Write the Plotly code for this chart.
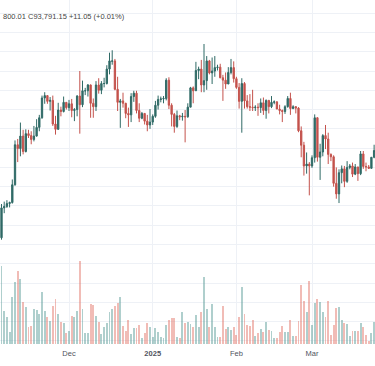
import pandas as pd
import plotly.graph_objects as go

# ---- data (BTC daily, prices in thousands USD) ----
dates = pd.date_range("2024-11-05", periods=140, freq="D")

open_k = [67.8, 69.4, 75.6, 75.9, 76.5, 76.7, 80.4, 88.7, 87.9, 90.5, 87.3, 91.0, 90.6, 89.8, 90.5, 92.3,
          94.3, 98.4, 98.9, 97.7, 97.9, 93.0, 91.9, 95.9, 95.6, 97.5,
          96.4, 97.2, 95.8, 96.0, 98.8, 97.0, 99.9, 99.9, 101.1, 97.3, 96.6, 101.1, 100.0, 101.4, 101.4, 104.4,
          106.0, 106.1, 100.2, 97.5, 97.8, 97.3, 95.2, 94.9, 98.7, 99.4, 95.8, 94.2, 95.2, 93.6, 92.8,
          93.4, 94.6, 96.9, 98.1, 98.2, 98.3, 102.1, 96.9, 95.0, 92.5, 94.7, 94.5, 94.6, 94.5, 96.5, 100.5,
          99.9, 104.1, 104.4, 101.1, 102.0, 106.1, 103.6, 104.0, 104.7, 104.8, 102.6, 102.1, 101.3, 103.7, 104.7,
          102.4, 100.6, 97.7, 101.4, 97.8, 96.6, 96.5, 96.4, 96.5, 96.4, 97.4, 95.8, 97.9, 96.6, 97.5, 97.6,
          96.1, 95.8, 95.6, 96.6, 98.3, 96.2, 96.6, 96.3, 91.6, 88.6, 84.3, 84.7,
          84.3, 86.0, 94.3, 86.1, 87.2, 90.6, 89.9, 86.7, 86.2, 80.7, 78.5, 82.9, 83.7, 81.1, 84.0, 84.3,
          82.6, 84.1, 82.7, 86.8, 84.2, 84.1, 83.8, 86.1]
high_k = [70.5, 76.4, 76.9, 77.2, 76.9, 81.5, 89.6, 89.9, 93.3, 91.8, 91.9, 91.8, 91.5, 92.6, 94.0, 94.9,
          98.9, 99.6, 98.9, 98.6, 98.9, 94.7, 97.4, 96.6, 98.7, 97.5,
          98.0, 98.2, 96.3, 99.0, 104.0, 102.0, 100.5, 101.3, 101.2, 98.3, 101.9, 102.5, 101.9, 102.6, 105.2, 107.8,
          108.3, 106.5, 102.8, 98.2, 99.5, 97.4, 96.4, 99.4, 99.9, 99.9, 97.3, 95.5, 95.2, 94.9, 96.1,
          95.0, 97.8, 98.9, 98.7, 98.8, 102.5, 102.7, 97.3, 95.3, 95.8, 94.9, 95.3, 95.9, 97.3, 100.7, 100.8,
          105.9, 104.9, 106.3, 109.6, 107.1, 106.3, 106.8, 107.1, 105.3, 105.5, 103.2, 103.7, 104.8, 106.5, 106.0,
          102.8, 101.5, 102.5, 101.7, 99.0, 99.2, 100.1, 96.9, 97.3, 98.3, 98.5, 98.1, 98.0, 98.8, 97.9,
          97.7, 97.0, 96.0, 96.9, 98.8, 99.5, 96.9, 96.7, 96.5, 92.5, 89.3, 87.1, 85.1,
          86.5, 95.0, 94.4, 88.9, 90.9, 92.8, 91.2, 86.9, 86.5, 84.0, 83.6, 84.4, 84.3, 85.3, 84.7,
          85.0, 84.7, 84.1, 87.4, 87.4, 85.0, 84.5, 86.1, 88.7]
low_k = [67.4, 69.0, 74.5, 75.6, 75.7, 76.5, 80.2, 85.1, 86.3, 86.7, 87.1, 90.1, 88.8, 89.4, 90.4, 91.5,
         94.1, 97.2, 97.2, 95.8, 92.6, 90.8, 91.8, 94.6, 95.4, 96.0,
         95.7, 94.4, 93.6, 94.6, 91.0, 96.5, 99.0, 98.7, 94.3, 94.3, 95.7, 99.3, 99.2, 100.6, 101.2, 103.3,
         105.3, 100.0, 95.7, 92.2, 96.4, 94.2, 92.4, 93.4, 97.6, 95.2, 93.4, 94.0, 92.9, 91.5, 92.0,
         92.8, 94.3, 96.0, 97.5, 97.3, 97.9, 96.1, 92.5, 91.2, 92.2, 93.8, 93.7, 89.2, 94.3, 96.5, 97.3,
         99.9, 102.3, 99.6, 99.6, 100.1, 103.3, 101.3, 102.8, 104.1, 102.5, 97.8, 100.3, 101.3, 103.3, 101.6,
         100.3, 96.2, 91.2, 96.2, 96.2, 95.7, 95.7, 95.7, 94.7, 95.3, 94.9, 94.1, 95.2, 96.3, 97.1,
         96.1, 95.0, 93.4, 95.1, 96.4, 94.9, 96.1, 95.2, 91.3, 86.1, 82.3, 82.7, 78.2,
         83.9, 85.0, 85.2, 81.4, 86.3, 87.8, 84.7, 85.3, 80.0, 77.5, 76.6, 80.7, 79.9, 80.8, 83.6,
         82.0, 82.4, 81.2, 82.4, 83.7, 83.2, 83.7, 83.8, 85.9]
close_k = [69.4, 75.6, 75.9, 76.5, 76.7, 80.4, 88.7, 87.9, 90.5, 87.3, 91.0, 90.6, 89.8, 90.5, 92.3, 94.3,
           98.4, 98.9, 97.7, 97.9, 93.0, 91.9, 95.9, 95.6, 97.5, 96.4,
           97.2, 95.8, 96.0, 98.8, 97.0, 99.9, 99.9, 101.1, 97.3, 96.6, 101.1, 100.0, 101.4, 101.4, 104.4, 106.1,
           106.1, 100.2, 97.5, 97.8, 97.3, 95.2, 94.9, 98.7, 99.4, 95.8, 94.2, 95.2, 93.6, 92.8, 93.4,
           94.6, 96.9, 98.1, 98.2, 98.3, 102.1, 96.9, 95.0, 92.5, 94.7, 94.5, 94.6, 94.5, 96.5, 100.5, 99.9,
           104.1, 104.4, 101.1, 102.0, 106.1, 103.6, 104.0, 104.7, 104.8, 102.6, 102.1, 101.3, 103.7, 104.7, 102.4,
           100.6, 97.7, 101.4, 97.8, 96.6, 96.5, 96.4, 96.5, 96.4, 97.4, 95.8, 97.9, 96.6, 97.5, 97.6,
           96.1, 95.8, 95.6, 96.6, 98.3, 96.2, 96.6, 96.3, 91.6, 88.6, 84.3, 84.7, 84.3,
           86.0, 94.3, 86.1, 87.2, 90.6, 89.9, 86.7, 86.2, 80.7, 78.5, 82.9, 83.7, 81.1, 84.0, 84.3,
           82.6, 84.1, 82.7, 86.8, 84.2, 84.1, 83.8, 86.1, 87.5]
volume_k = [30,
            78, 33, 27, 12, 47, 62, 73, 65, 42, 37, 17, 18, 35, 34, 30, 52, 33, 27, 23, 38,
            45, 30, 22, 21, 11, 13, 28, 27, 33, 83, 35, 11, 11, 40, 39, 28, 22, 10, 17, 21,
            32, 35, 38, 41, 47, 18,
            13, 24, 10, 16, 16, 19, 6, 11, 21, 17, 7, 16, 12, 7, 6, 19, 24, 26, 26, 7,
            6, 32, 21, 22, 20, 17, 29, 17, 32, 67, 35, 17, 40, 17, 7, 7, 38, 15, 17, 14,
            17, 9, 27, 57, 30, 19,
            18, 24, 8, 11, 15, 12, 22, 14, 13, 6, 6, 12, 18, 12, 12, 24, 8, 8, 23, 59,
            43, 32, 63, 19, 41, 45, 42, 32, 27, 43, 9, 19, 36, 37, 24, 21, 20, 8, 13, 13,
            13, 21, 17, 9, 3, 11, 22]

month_ticks = ["2024-12-01", "2025-01-01", "2025-02-01", "2025-03-01"]
month_labels = ["Dec", "<b>2025</b>", "Feb", "Mar"]
header_text = "800.01 C93,791.15 +11.05 (+0.01%)"

# ---- styles ----
UP = "#2f6a66"
DOWN = "#c4524c"
VOL_UP = "rgba(80,150,145,0.46)"
VOL_DOWN = "rgba(225,110,95,0.46)"
GRID = "#eef1f6"
FONT = "Liberation Sans, Arial, sans-serif"

vol_colors = [VOL_UP if c >= o else VOL_DOWN for o, c in zip(open_k, close_k)]

fig = go.Figure()
fig.add_trace(go.Bar(
    x=dates, y=volume_k, marker=dict(color=vol_colors, line=dict(width=0)),
    width=0.72 * 86400000, yaxis="y2", hoverinfo="skip", showlegend=False,
))
fig.add_trace(go.Candlestick(
    x=dates, open=open_k, high=high_k, low=low_k, close=close_k,
    increasing=dict(line=dict(color=UP, width=1), fillcolor=UP),
    decreasing=dict(line=dict(color=DOWN, width=1), fillcolor=DOWN),
    whiskerwidth=0, showlegend=False, yaxis="y",
))

day = pd.Timedelta(days=1)
ref = pd.Timestamp("2024-12-01")
x_start = ref - day * 25.56
x_end = ref + day * 113.33

fig.update_layout(
    width=375, height=366,
    margin=dict(l=0, r=0, t=0, b=22),
    paper_bgcolor="white", plot_bgcolor="white",
    font=dict(family=FONT, size=8, color="#555"),
    bargap=0,
    xaxis=dict(
        type="date", range=[x_start, x_end],
        tickvals=month_ticks, ticktext=month_labels,
        showgrid=True, gridcolor=GRID, gridwidth=1,
        zeroline=False, showline=False, ticks="",
        ticklabelstandoff=3,
        tickfont=dict(size=7.5, color="#50535e", family=FONT),
        rangeslider=dict(visible=False), fixedrange=True,
    ),
    yaxis=dict(
        range=[47.36, 118.73], dtick=4, tick0=0,
        showticklabels=False, showgrid=True, gridcolor=GRID, gridwidth=1,
        zeroline=False, showline=False, fixedrange=True,
    ),
    yaxis2=dict(
        overlaying="y", range=[0, 344], visible=False, fixedrange=True,
    ),
    annotations=[dict(
        x=0, y=1 - 17 / 344, xref="paper", yref="paper",
        xanchor="left", yanchor="middle", xshift=1,
        text=header_text, showarrow=False,
        font=dict(size=7.5, color="#444", family=FONT),
    )],
)

fig.write_html(
    "out.html",
    config={"displayModeBar": False},
    post_script="document.body.style.margin='0px';document.body.style.padding='0px';",
)
